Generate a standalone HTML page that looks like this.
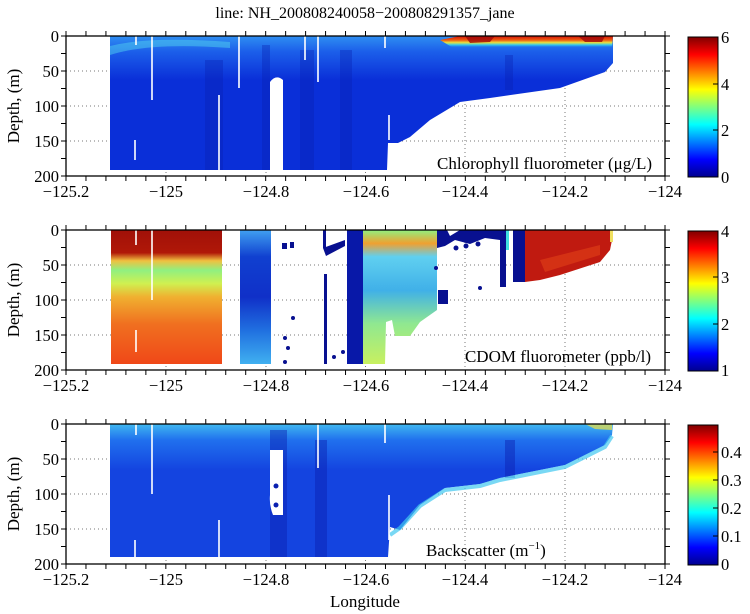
<!DOCTYPE html>
<html><head><meta charset="utf-8"><style>
html,body{margin:0;padding:0;background:#fff;}
svg{display:block;font-family:"Liberation Serif",serif;}
</style></head><body>
<svg width="750" height="614" viewBox="0 0 750 614" xmlns="http://www.w3.org/2000/svg">
<defs>
<linearGradient id="jet" x1="0" y1="1" x2="0" y2="0">
<stop offset="0" stop-color="#00008f"/><stop offset="0.125" stop-color="#0000ff"/>
<stop offset="0.375" stop-color="#00ffff"/><stop offset="0.625" stop-color="#ffff00"/>
<stop offset="0.875" stop-color="#ff0000"/><stop offset="1" stop-color="#800000"/>
</linearGradient>
<linearGradient id="c1" gradientUnits="userSpaceOnUse" x1="0" y1="36" x2="0" y2="80">
<stop offset="0" stop-color="#2f8ff2"/><stop offset="0.35" stop-color="#1c5fea"/><stop offset="1" stop-color="#0a2fd8"/>
</linearGradient>
<linearGradient id="c1r" gradientUnits="userSpaceOnUse" x1="0" y1="36" x2="0" y2="48">
<stop offset="0" stop-color="#d01008"/><stop offset="0.35" stop-color="#f06010"/><stop offset="0.55" stop-color="#e8e040"/><stop offset="0.75" stop-color="#30c8f0"/><stop offset="1" stop-color="#1c5fea" stop-opacity="0"/>
</linearGradient>
<linearGradient id="c2a" gradientUnits="userSpaceOnUse" x1="0" y1="230" x2="0" y2="364">
<stop offset="0" stop-color="#a01008"/><stop offset="0.17" stop-color="#b01808"/><stop offset="0.23" stop-color="#f0c040"/><stop offset="0.3" stop-color="#90f080"/><stop offset="0.4" stop-color="#d0f050"/><stop offset="0.5" stop-color="#f0b030"/><stop offset="0.7" stop-color="#f07020"/><stop offset="1" stop-color="#f04818"/>
</linearGradient>
<linearGradient id="c2b" gradientUnits="userSpaceOnUse" x1="0" y1="230" x2="0" y2="364">
<stop offset="0" stop-color="#40a0f0"/><stop offset="0.2" stop-color="#1040d0"/><stop offset="0.5" stop-color="#1030c8"/><stop offset="0.75" stop-color="#2070e0"/><stop offset="1" stop-color="#40b0f0"/>
</linearGradient>
<linearGradient id="c2c" gradientUnits="userSpaceOnUse" x1="0" y1="230" x2="0" y2="364">
<stop offset="0" stop-color="#90f080"/><stop offset="0.1" stop-color="#f0a030"/><stop offset="0.2" stop-color="#60d0f0"/><stop offset="0.45" stop-color="#40b0e8"/><stop offset="0.7" stop-color="#90e890"/><stop offset="1" stop-color="#c8f060"/>
</linearGradient>
<linearGradient id="c3" gradientUnits="userSpaceOnUse" x1="0" y1="424" x2="0" y2="470">
<stop offset="0" stop-color="#40b8f0"/><stop offset="0.35" stop-color="#2070ee"/><stop offset="1" stop-color="#1444e0"/>
</linearGradient>
</defs>

<text x="365" y="18" font-size="16" text-anchor="middle">line: NH_200808240058−200808291357_jane</text>

<g stroke="#777" stroke-width="1" stroke-dasharray="1 3">
<path d="M66 71H665M66 106H665M66 141H665M166 36V176M266 36V176M365.5 36V176M465 36V176M565 36V176"/>
<path d="M66 265H665M66 300H665M66 335H665M166 230V370M266 230V370M365.5 230V370M465 230V370M565 230V370"/>
<path d="M66 459H665M66 494H665M66 529H665M166 424V564M266 424V564M365.5 424V564M465 424V564M565 424V564"/>
</g>

<!-- panel 1 -->
<polygon fill="url(#c1)" points="110,36 613,36 613,63 605,72 560,88 490,98 460,102 430,120 410,137 398,143 388,143 387,170 110,170"/>
<polygon fill="url(#c1r)" points="440,40 460,36 613,36 612,48 560,50 500,50 460,52"/>
<polygon fill="#a00808" opacity="0.8" points="465,36 495,36 490,42 470,43"/>
<polygon fill="#a00808" opacity="0.8" points="578,36 605,36 602,42 585,42"/>
<path d="M110,55 Q150,42 230,48 L230,42 Q150,36 110,46Z" fill="#50d0f0" opacity="0.5"/>
<g fill="#0820b0" opacity="0.35">
<rect x="205" y="60" width="18" height="110"/><rect x="262" y="45" width="8" height="125"/><rect x="300" y="50" width="14" height="120"/><rect x="340" y="50" width="12" height="120"/><rect x="505" y="55" width="8" height="35"/>
</g>
<path d="M270,170 V82 Q276,74 283,80 V170Z" fill="#fff"/>
<g stroke="#fff" stroke-width="1.6">
<path d="M136 36V45M152 36V100M135 140V160M219 95V170M239 36V88M305 36V60M318 36V82M385 36V48M389 115V140"/>
</g>

<!-- panel 2 -->
<rect x="111" y="230" width="111" height="134" fill="url(#c2a)"/>
<g stroke="#fff" stroke-width="1.6"><path d="M136 230V245M152 230V300M136 330V352"/></g>
<rect x="240" y="230" width="31" height="134" fill="url(#c2b)"/>
<rect x="347" y="230" width="16" height="134" fill="#0818a8"/>
<polygon fill="url(#c2c)" points="363,230 437,230 437,310 420,322 410,336 395,336 392,320 386,322 385,364 363,364"/>
<g fill="#081090">
<rect x="324" y="274" width="3" height="90"/>
<rect x="323" y="230" width="3" height="18"/>
<polygon points="323,248 345,240 345,246 326,256"/>
<rect x="282" y="243" width="5" height="6"/><rect x="290" y="242" width="4" height="6"/>
<circle cx="293" cy="318" r="2"/><circle cx="285" cy="338" r="2"/><circle cx="288" cy="348" r="2"/><circle cx="285" cy="362" r="2"/><circle cx="334" cy="357" r="2"/><circle cx="343" cy="352" r="2"/>
<polygon points="437,230 447,230 450,236 460,230 500,230 500,240 485,238 470,244 455,240 445,246 437,248"/>
<circle cx="466" cy="246" r="2.5"/><circle cx="478" cy="244" r="2.5"/><circle cx="456" cy="248" r="2.5"/>
<rect x="500" y="230" width="6" height="57"/>
<rect x="513" y="230" width="12" height="52"/>
<rect x="438" y="290" width="10" height="14"/><circle cx="436" cy="268" r="2"/><circle cx="480" cy="288" r="2"/><circle cx="517" cy="255" r="3"/><circle cx="516" cy="268" r="3"/>
</g>
<rect x="506" y="230" width="3" height="20" fill="#40e0e0"/>
<polygon fill="#c01a10" points="525,230 610,230 612,240 610,250 600,262 560,275 540,280 525,282"/>
<path d="M540,260 L600,245 L600,255 L545,272Z" fill="#e84818" opacity="0.5"/>
<rect x="610" y="230" width="3" height="12" fill="#f0e060"/>

<!-- panel 3 -->
<polygon fill="url(#c3)" points="110,424 613,424 612,435 605,445 565,465 500,478 480,484 445,488 420,505 400,530 390,527 388,557 110,557"/>
<g fill="#0a20b0" opacity="0.45">
<rect x="270" y="430" width="17" height="127"/><rect x="315" y="440" width="12" height="117"/><rect x="505" y="440" width="10" height="38"/>
</g>
<polyline fill="none" stroke="#40c8f0" stroke-width="4" points="390,535 400,528 420,506 445,490 480,486 500,480 565,467 605,447 612,436" opacity="0.7"/>
<polygon fill="#f0e040" opacity="0.7" points="585,424 612,424 612,430 595,429"/>
<path d="M270,450 H283 V515 H273 Q269,505 270,495Z" fill="#fff"/>
<g fill="#0a20b0"><circle cx="276" cy="486" r="2.5"/><circle cx="276" cy="505" r="2.5"/></g>
<g stroke="#fff" stroke-width="1.6"><path d="M136 424V435M152 424V494M135 540V560M219 520V557M318 424V468M385 424V443M389 495V540"/></g>

<g fill="none" stroke="#000" stroke-width="1.3">
<rect x="66" y="36" width="599" height="140"/>
<rect x="66" y="230" width="599" height="140"/>
<rect x="66" y="424" width="599" height="140"/>
</g>
<g stroke="#000" stroke-width="5" stroke-dasharray="1 18.967" fill="none">
<path d="M65.5 33.5H667M65.5 178.5H667M65.5 227.5H667M65.5 372.5H667M65.5 421.5H667M65.5 566.5H667"/>
</g>
<g stroke="#000" stroke-width="5" stroke-dasharray="1 16.5" fill="none">
<path d="M63.5 35.5V178M667.5 35.5V178M63.5 229.5V372M667.5 229.5V372M63.5 423.5V566M667.5 423.5V566"/>
</g>

<g font-size="16.5" text-anchor="middle">
<text x="66" y="197">−125.2</text><text x="166" y="197">−125</text><text x="266" y="197">−124.8</text><text x="366" y="197">−124.6</text><text x="465" y="197">−124.4</text><text x="565" y="197">−124.2</text><text x="665" y="197">−124</text>
<text x="66" y="391">−125.2</text><text x="166" y="391">−125</text><text x="266" y="391">−124.8</text><text x="366" y="391">−124.6</text><text x="465" y="391">−124.4</text><text x="565" y="391">−124.2</text><text x="665" y="391">−124</text>
<text x="66" y="585">−125.2</text><text x="166" y="585">−125</text><text x="266" y="585">−124.8</text><text x="366" y="585">−124.6</text><text x="465" y="585">−124.4</text><text x="565" y="585">−124.2</text><text x="665" y="585">−124</text>
</g>
<g font-size="16.5" text-anchor="end">
<text x="59" y="42">0</text><text x="59" y="77">50</text><text x="59" y="112">100</text><text x="59" y="147">150</text><text x="59" y="182">200</text>
<text x="59" y="236">0</text><text x="59" y="271">50</text><text x="59" y="306">100</text><text x="59" y="341">150</text><text x="59" y="376">200</text>
<text x="59" y="430">0</text><text x="59" y="465">50</text><text x="59" y="500">100</text><text x="59" y="535">150</text><text x="59" y="570">200</text>
</g>
<g font-size="17" text-anchor="middle">
<text transform="translate(19,106) rotate(-90)">Depth, (m)</text>
<text transform="translate(19,300) rotate(-90)">Depth, (m)</text>
<text transform="translate(19,494) rotate(-90)">Depth, (m)</text>
<text x="365" y="607">Longitude</text>
</g>
<g font-size="17">
<text x="652" y="169" text-anchor="end">Chlorophyll fluorometer (μg/L)</text>
<text x="651" y="362" text-anchor="end">CDOM fluorometer (ppb/l)</text>
<text x="426" y="556">Backscatter (m<tspan font-size="11" dy="-7">−1</tspan><tspan dy="7">)</tspan></text>
</g>

<g stroke="#000" stroke-width="1">
<rect x="688" y="37" width="30" height="140" fill="url(#jet)"/>
<rect x="688" y="231" width="30" height="140" fill="url(#jet)"/>
<rect x="688" y="425" width="30" height="140" fill="url(#jet)"/>
</g>
<g stroke="#000" stroke-width="1">
<path d="M713 84H718M713 130H718M713 277H718M713 324H718M713 452H718M713 480H718M713 508H718M713 536H718"/>
</g>
<g font-size="16.5">
<text x="721" y="43">6</text><text x="721" y="90">4</text><text x="721" y="136">2</text><text x="721" y="183">0</text>
<text x="721" y="237">4</text><text x="721" y="283">3</text><text x="721" y="330">2</text><text x="721" y="376">1</text>
<text x="721" y="458">0.4</text><text x="721" y="486">0.3</text><text x="721" y="514">0.2</text><text x="721" y="542">0.1</text><text x="721" y="570">0</text>
</g>
</svg>
</body></html>
